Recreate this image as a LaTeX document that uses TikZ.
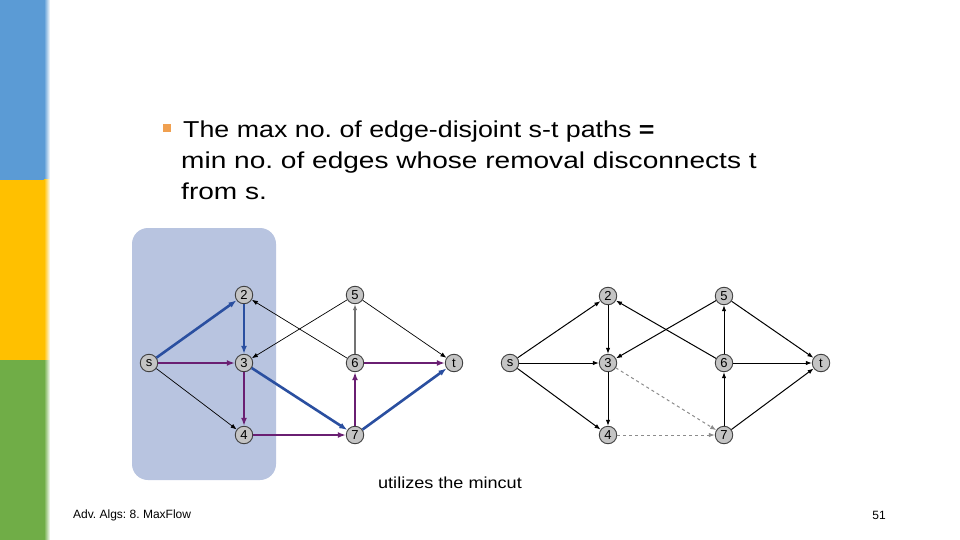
\documentclass[tikz,border=0pt]{standalone}
\usepackage{fontspec}
\usepackage{graphicx}
\setmainfont{Liberation Sans}
\usetikzlibrary{arrows.meta}
\definecolor{barblue}{HTML}{5B9BD5}
\definecolor{baryellow}{HTML}{FFC000}
\definecolor{bargreen}{HTML}{70AD47}
\definecolor{cutbox}{HTML}{B8C4E0}
\definecolor{pathblue}{HTML}{2A4FA0}
\definecolor{pathpurple}{HTML}{6A1F72}
\definecolor{nodefill}{HTML}{C4C4C4}
\definecolor{bulletorange}{HTML}{F0A050}
\tikzset{
  vtx/.style={circle,draw=black!75,fill=nodefill,line width=0.9pt,inner sep=0pt,minimum size=17.5pt,font=\fontsize{13}{13}\selectfont},
  thinedge/.style={-{Latex[length=6pt,width=4.5pt]},line width=0.7pt,black},
  greyedge/.style={-{Latex[length=6pt,width=4.5pt]},line width=1.4pt,black!55},
  blueedge/.style={-{Latex[length=8pt,width=6pt]},line width=2.6pt,pathblue},
  bluemid/.style={-{Latex[length=8pt,width=6pt]},line width=1.8pt,pathblue},
  purpleedge/.style={-{Latex[length=8pt,width=6pt]},line width=2.6pt,pathpurple},
  purplemid/.style={-{Latex[length=8pt,width=6pt]},line width=1.8pt,pathpurple},
  blackedge/.style={-{Latex[length=6pt,width=4.5pt]},line width=1pt,black},
  dashedge/.style={-{Latex[length=6pt,width=4.5pt]},line width=1pt,black!45,dashed},
  bodytext/.style={font=\fontsize{23}{31}\selectfont,anchor=base west,inner sep=0pt},
}
\newcommand{\widetext}[2][1.22]{\scalebox{#1}[1]{#2}}
\begin{document}
\frenchspacing
\begin{tikzpicture}[x=1pt,y=-1pt]
\useasboundingbox (0,0) rectangle (960,540);
\fill[white] (0,0) rectangle (960,540);
% side bar
\fill[barblue] (0,0) rectangle (44,180);
\fill[baryellow] (0,180) rectangle (44,360);
\fill[bargreen] (0,360) rectangle (44,540);
\shade[left color=barblue,right color=white] (44,0) rectangle (50,180);
\shade[left color=baryellow,right color=white] (44,180) rectangle (50,360);
\shade[left color=bargreen,right color=white] (44,360) rectangle (50,540);
% text
\fill[bulletorange] (163,124) rectangle (171,132);
\node[bodytext] (l1) at (183,138) {\widetext[1.165]{The max no. of edge-disjoint s-t paths \textbf{=}}};
\node[bodytext] (l2) at (181,169) {\widetext{min no. of edges whose removal disconnects t}};
\node[bodytext] (l3) at (181,200) {\widetext{from s.}};
% cut box
\fill[cutbox,rounded corners=16pt] (132,228) rectangle (276,480);
% left graph
\node[vtx] (s) at (149,363) {s};
\node[vtx] (a2) at (244,295) {2};
\node[vtx] (a3) at (244,363) {3};
\node[vtx] (a4) at (244,435) {4};
\node[vtx] (a5) at (355,295) {5};
\node[vtx] (a6) at (355,363) {6};
\node[vtx] (a7) at (355,435) {7};
\node[vtx] (t) at (454,363) {t};
\draw[blueedge] (s) -- (a2);
\draw[bluemid] (a2) -- (a3);
\draw[purpleedge] (s) -- (a3);
\draw[thinedge] (s) -- (a4);
\draw[purplemid] (a3) -- (a4);
\draw[blueedge] (a3) -- (a7);
\draw[purpleedge] (a4) -- (a7);
\draw[thinedge] (a5) -- (a3);
\draw[thinedge] (a6) -- (a2);
\draw[greyedge] (a6) -- (a5);
\draw[thinedge] (a5) -- (t);
\draw[purpleedge] (a6) -- (t);
\draw[purplemid] (a7) -- (a6);
\draw[blueedge] (a7) -- (t);
% right graph
\node[vtx] (rs) at (510,363) {s};
\node[vtx] (b2) at (608,296) {2};
\node[vtx] (b3) at (608,363) {3};
\node[vtx] (b4) at (608,435) {4};
\node[vtx] (b5) at (724,296) {5};
\node[vtx] (b6) at (724,363) {6};
\node[vtx] (b7) at (724,435) {7};
\node[vtx] (rt) at (821,363) {t};
\draw[blackedge] (rs) -- (b2);
\draw[blackedge] (rs) -- (b3);
\draw[blackedge] (rs) -- (b4);
\draw[blackedge] (b2) -- (b3);
\draw[blackedge] (b3) -- (b4);
\draw[blackedge] (b5) -- (b3);
\draw[blackedge] (b6) -- (b2);
\draw[blackedge] (b6) -- (b5);
\draw[blackedge] (b5) -- (rt);
\draw[blackedge] (b6) -- (rt);
\draw[blackedge] (b7) -- (b6);
\draw[blackedge] (b7) -- (rt);
\draw[dashedge] (b3) -- (b7);
\draw[dashedge] (b4) -- (b7);
% captions
\node[font=\fontsize{16}{16}\selectfont,inner sep=0pt] (cap) at (450,483) {\scalebox{1.13}[1]{utilizes the mincut}};
\node[font=\fontsize{12}{12}\selectfont,anchor=west,inner sep=0pt] (foot) at (73,515) {Adv. Algs: 8. MaxFlow};
\node[font=\fontsize{12}{12}\selectfont,anchor=east,inner sep=0pt] (pg) at (886,515) {51};
\end{tikzpicture}
\end{document}
